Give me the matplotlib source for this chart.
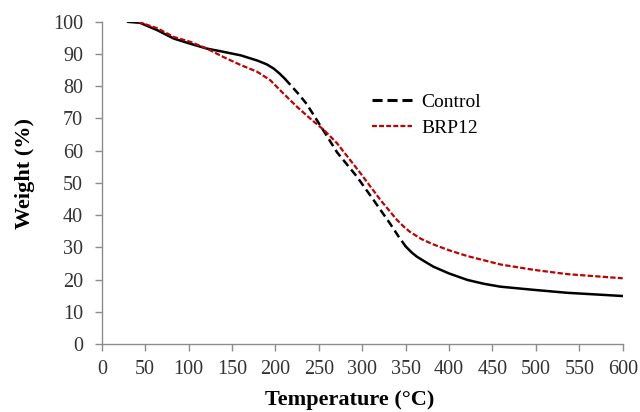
import numpy as np
import matplotlib.pyplot as plt
from matplotlib.lines import Line2D

# values
temp_control = np.array([30, 44, 64, 83, 102, 121, 140, 160, 179, 190, 198, 205, 211, 217, 226, 236, 255,
                         271, 294, 313, 332, 342, 350, 357, 363, 372, 382, 400, 421, 440, 459, 498, 536, 600])
w_control = np.array([100, 99.7, 97.4, 94.8, 93.2, 91.7, 90.7, 89.6, 88, 86.8, 85.5, 83.9, 82.3, 80.5, 77.8, 74.5, 66.4,
                      59.5, 51.9, 44.7, 37.4, 33.3, 30.3, 28.4, 27.1, 25.6, 24, 21.9, 19.9, 18.7, 17.8, 16.8, 15.9, 14.9])

temp_brp = np.array([42, 64, 83, 102, 121, 140, 160, 179, 194, 209, 225, 240, 256, 271,
                     298, 321, 340, 348, 355, 368, 382, 400, 421, 459, 498, 536, 600])
w_brp = np.array([100, 98, 95.3, 93.8, 91.7, 89.1, 86.6, 84.5, 81.9, 77.8, 73.6, 70, 66.4, 62.3,
                  53, 44.7, 38.5, 36.4, 34.8, 32.6, 30.9, 29.1, 27.3, 24.7, 23, 21.7, 20.4])

x_ticks = np.arange(0, 601, 50)
y_ticks = np.arange(0, 101, 10)

plt.rcParams['font.family'] = ['Liberation Serif', 'DejaVu Serif']
grey = '#8c8c8c'
red = '#c00000'

fig = plt.figure(figsize=(6.4, 4.12), dpi=100)
ax = fig.add_axes([0.159, 0.165, 0.814, 0.782])

# Control looks solid where it is flat and dashed on the steep part
lo = temp_control <= 211
mid = (temp_control >= 211) & (temp_control <= 350)
hi = temp_control >= 350
ax.plot(temp_control[lo], w_control[lo], color='black', lw=1.8, solid_capstyle='round')
ax.plot(temp_control[mid], w_control[mid], color='black', lw=1.8, dashes=(3.2, 1.8))
ax.plot(temp_control[hi], w_control[hi], color='black', lw=1.8, solid_capstyle='round')

ax.plot(temp_brp, w_brp, color=red, lw=1.6, dashes=(2.4, 1.0))

handles = [Line2D([], [], color='black', lw=2.2, dashes=(3.3, 1.6)),
           Line2D([], [], color=red, lw=1.6, dashes=(2.2, 1.0))]
ax.legend(handles, ['Control', 'BRP12'], loc='center left', bbox_to_anchor=(0.519, 0.71),
          frameon=False, fontsize=14, handlelength=2.05, handletextpad=0.5, labelspacing=0.45,
          borderpad=0, borderaxespad=0)

ax.set_xlim(0, 600)
ax.set_ylim(0, 100)
ax.set_xticks(x_ticks)
ax.set_yticks(y_ticks)
ax.tick_params(colors=grey, labelcolor='#333333', labelsize=14.5, length=5, width=1, direction='out')
ax.tick_params(axis='x', pad=6.5)
ax.tick_params(axis='y', pad=8.5)
for s in ['top', 'right']:
    ax.spines[s].set_visible(False)
for s in ['left', 'bottom']:
    ax.spines[s].set_color(grey)
    ax.spines[s].set_linewidth(1)

ax.set_xlabel('Temperature (°C)', fontsize=16, fontweight='bold')
ax.set_ylabel('Weight (%)', fontsize=16, fontweight='bold')
ax.xaxis.set_label_coords(0.475, -0.143)
ax.yaxis.set_label_coords(-0.128, 0.529)

fig.savefig('out.png', dpi=100)
